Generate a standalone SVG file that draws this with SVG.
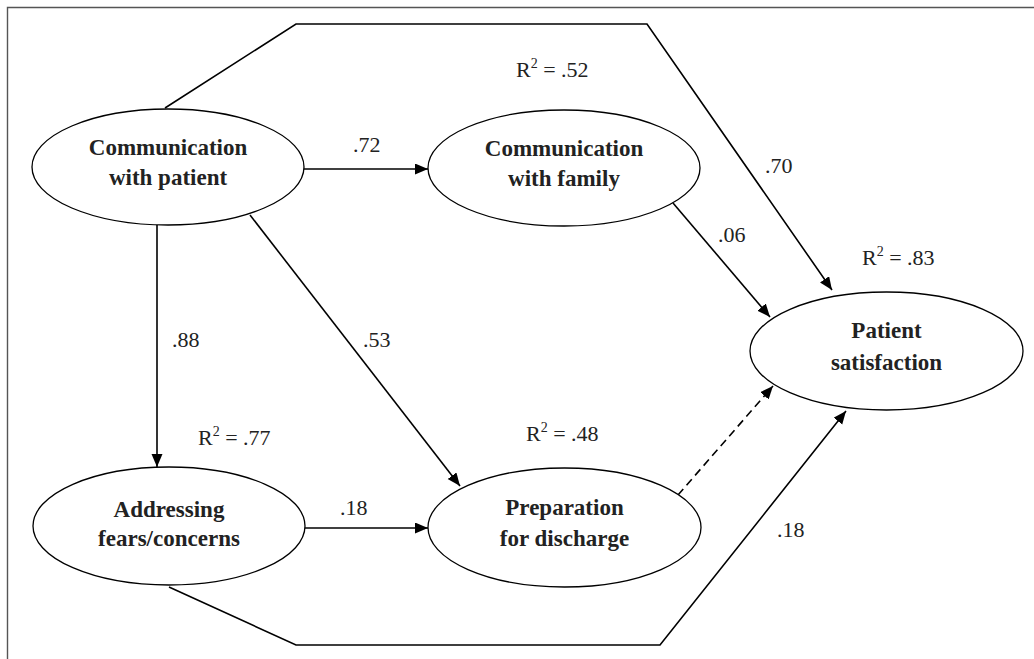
<svg xmlns="http://www.w3.org/2000/svg" width="1034" height="659" viewBox="0 0 1034 659">
<style>
.node{fill:#fff;stroke:#000;stroke-width:1.3}
.lbl{font-family:"Liberation Serif","Times New Roman",serif;font-weight:bold;font-size:23px;fill:#222;text-anchor:middle}
.num{font-family:"Liberation Serif","Times New Roman",serif;font-size:22px;fill:#222}
.edge{fill:none;stroke:#000;stroke-width:1.6}
.frame{fill:none;stroke:#555;stroke-width:1.4}
</style>
<defs>
<marker id="ah" markerUnits="userSpaceOnUse" markerWidth="14" markerHeight="12" refX="13" refY="5.5" orient="auto">
<path d="M0,0 L13,5.5 L0,11 z" fill="#000"/>
</marker>
</defs>
<rect width="1034" height="659" fill="#fff"/>
<path class="frame" d="M7.5,659 L7.5,7.5 L1034,7.5"/>
<g id="connectors">
<path class="edge" d="M165,108 L296,24 L647,24 L832,290" marker-end="url(#ah)"/>
<path class="edge" d="M169,587 L296,645 L660,645 L846,411" marker-end="url(#ah)"/>
<path class="edge" d="M304,169 L428,169" marker-end="url(#ah)"/>
<path class="edge" d="M157,225 L157,467" marker-end="url(#ah)"/>
<path class="edge" d="M250,215 L460,486" marker-end="url(#ah)"/>
<path class="edge" d="M305,528 L428,528" marker-end="url(#ah)"/>
<path class="edge" d="M673,203 L770,317" marker-end="url(#ah)"/>
<path class="edge" d="M678,495 L773,386" stroke-dasharray="8,5" marker-end="url(#ah)"/>
<text class="num" x="353" y="152">.72</text>
<text class="num" x="765" y="173">.70</text>
<text class="num" x="718" y="242">.06</text>
<text class="num" x="172" y="347">.88</text>
<text class="num" x="363" y="347">.53</text>
<text class="num" x="340" y="515">.18</text>
<text class="num" x="777" y="537">.18</text>
</g>
<g id="comm-patient">
<ellipse class="node" cx="168" cy="167" rx="136" ry="58"/>
<text class="lbl" x="168" y="155">Communication</text>
<text class="lbl" x="168" y="185">with patient</text>
</g>
<g id="comm-family">
<ellipse class="node" cx="564" cy="168" rx="136" ry="58"/>
<text class="lbl" x="564" y="156">Communication</text>
<text class="lbl" x="564" y="186">with family</text>
<text class="num" x="516" y="77">R<tspan dy="-9" font-size="14">2</tspan><tspan dy="9"> = .52</tspan></text>
</g>
<g id="addressing">
<ellipse class="node" cx="169" cy="526" rx="136" ry="59"/>
<text class="lbl" x="169" y="517">Addressing</text>
<text class="lbl" x="169" y="546">fears/concerns</text>
<text class="num" x="198" y="445">R<tspan dy="-9" font-size="14">2</tspan><tspan dy="9"> = .77</tspan></text>
</g>
<g id="preparation">
<ellipse class="node" cx="564.5" cy="527.5" rx="136.5" ry="59.5"/>
<text class="lbl" x="564.5" y="515">Preparation</text>
<text class="lbl" x="564.5" y="546">for discharge</text>
<text class="num" x="526" y="441">R<tspan dy="-9" font-size="14">2</tspan><tspan dy="9"> = .48</tspan></text>
</g>
<g id="satisfaction">
<ellipse class="node" cx="886.5" cy="351" rx="136.5" ry="59"/>
<text class="lbl" x="886.5" y="338">Patient</text>
<text class="lbl" x="886.5" y="370">satisfaction</text>
<text class="num" x="862" y="265">R<tspan dy="-9" font-size="14">2</tspan><tspan dy="9"> = .83</tspan></text>
</g>
</svg>
